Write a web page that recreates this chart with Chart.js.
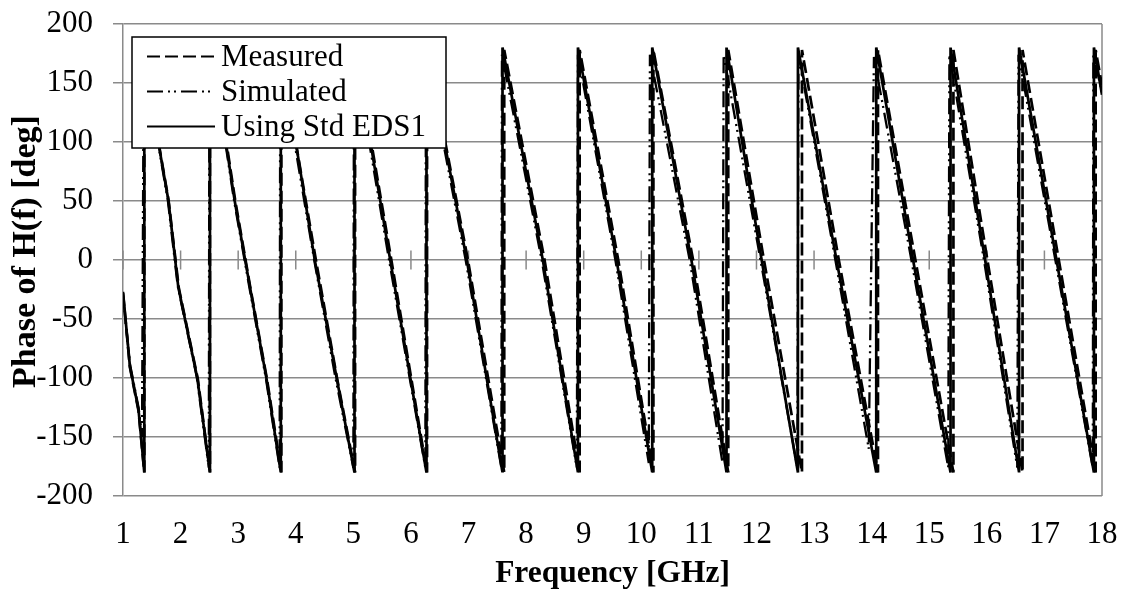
<!DOCTYPE html>
<html>
<head>
<meta charset="utf-8">
<script src="https://cdn.jsdelivr.net/npm/chart.js@4.4.1/dist/chart.umd.min.js"></script>
<style>
html,body{margin:0;padding:0;background:#fff;}
#wrap{width:1125px;height:595px;position:relative;}
</style>
</head>
<body>
<div id="wrap"><canvas id="c" width="1125" height="595"></canvas></div>
<script>
// ---- Data ----
const xTickValues = [1,2,3,4,5,6,7,8,9,10,11,12,13,14,15,16,17,18];
const yTickValues = [-200,-150,-100,-50,0,50,100,150,200];

const seriesNames = ["Measured", "Simulated", "Using Std EDS1"];

const measuredFreq = [1, 1.12, 1.27, 1.37, 1.37, 1.63, 1.79, 1.97, 2.30, 2.51, 2.51, 2.81, 2.95, 3.21, 3.50, 3.75, 3.75, 4.02, 4.35, 4.72, 5.03, 5.03, 5.66, 6.28, 6.28, 6.99, 7.62, 7.62, 8.32, 8.93, 8.93, 9.60, 10.21, 10.21, 10.90, 11.51, 11.51, 12.13, 12.79, 12.79, 13.43, 14.11, 14.11, 14.76, 15.42, 15.42, 16.01, 16.62, 16.62, 17.25, 17.89, 17.89, 18];
const measuredPhase = [-28, -91, -128, -180, 180, 96, 51, -24, -101, -180, 180, 95, 50, -23, -101, -180, 180, 94, 0, -101, -180, 180, 0, -180, 180, 0, -180, 178, 0, -180, 178, 0, -180, 178, 0, -180, 178, 0, -180, 178, 0, -180, 178, 0, -180, 178, 0, -180, 178, 0, -180, 178, 148];

const simulatedFreq = [1, 1.12, 1.27, 1.33, 1.36, 1.62, 1.78, 1.95, 2.28, 2.49, 2.50, 2.79, 2.93, 3.19, 3.48, 3.72, 3.73, 4.00, 4.32, 4.69, 5.00, 5.01, 5.62, 6.25, 6.26, 6.95, 7.57, 7.58, 8.27, 8.88, 8.90, 9.55, 10.13, 10.15, 10.84, 11.41, 11.43, 12.07, 12.71, 12.73, 13.37, 13.95, 14.04, 14.69, 15.33, 15.35, 15.95, 16.53, 16.55, 17.19, 17.84, 17.85, 18];
const simulatedPhase = [-30, -88, -125, -150, 178, 96, 50, -22, -99, -176, 176, 95, 50, -22, -100, -176, 176, 93, 0, -100, -176, 176, 0, -176, 176, 0, -176, 174, 0, -176, 174, 0, -172, 174, 0, -172, 174, 0, -176, 174, 0, -160, 172, 0, -176, 174, 0, -176, 174, 0, -176, 174, 142];

const edsFreq = [1, 1.12, 1.27, 1.37, 1.37, 1.63, 1.79, 1.96, 2.29, 2.51, 2.51, 2.80, 2.94, 3.205, 3.49, 3.74, 3.74, 4.015, 4.33, 4.71, 5.02, 5.02, 5.64, 6.27, 6.27, 6.97, 7.59, 7.59, 8.29, 8.90, 8.90, 9.57, 10.19, 10.19, 10.87, 11.48, 11.48, 12.09, 12.72, 12.72, 13.39, 14.08, 14.08, 14.72, 15.37, 15.37, 15.97, 16.56, 16.56, 17.21, 17.86, 17.86, 18];
const edsPhase = [-27, -90, -127, -180, 180, 95, 50, -23, -100, -180, 180, 95, 50, -23, -100, -180, 180, 95, 0, -100, -180, 180, 0, -180, 180, 0, -180, 180, 0, -180, 180, 0, -180, 180, 0, -180, 180, 0, -180, 180, 0, -180, 180, 0, -180, 180, 0, -180, 180, 0, -180, 180, 140];

// ---- Chart ----
const SERIF = '"Liberation Serif", "Times New Roman", Times, serif';
const GRID = '#8a8a8a';
const toPts = (fs, ps) => fs.map((f, i) => ({x: f, y: ps[i]}));

const styles = [
  {dash: [13, 5], width: 2.7},
  {dash: [16, 5, 2, 4, 2, 5], width: 2.3},
  {dash: [], width: 2.7}
];

const zeroTicks = {
  id: 'zeroTicks',
  beforeDatasetsDraw(chart) {
    const {ctx, scales: {x, y}, chartArea} = chart;
    const y0 = y.getPixelForValue(0);
    ctx.save();
    ctx.strokeStyle = GRID;
    ctx.lineWidth = 1.5;
    ctx.beginPath();
    xTickValues.forEach(v => {
      const px = x.getPixelForValue(v);
      ctx.moveTo(px, y0 - 9.5);
      ctx.lineTo(px, y0 + 9.5);
    });
    ctx.moveTo(chartArea.right, chartArea.top);
    ctx.lineTo(chartArea.right, chartArea.bottom);
    ctx.stroke();
    ctx.restore();
  }
};

const boxLegend = {
  id: 'boxLegend',
  afterDatasetsDraw(chart) {
    const {ctx, chartArea} = chart;
    const bx = chartArea.left + 9, by = chartArea.top + 13, bw = 314, bh = 111;
    ctx.save();
    ctx.fillStyle = '#fff';
    ctx.fillRect(bx, by, bw, bh);
    ctx.strokeStyle = '#000';
    ctx.lineWidth = 1.5;
    ctx.strokeRect(bx, by, bw, bh);
    ctx.font = '31px ' + SERIF;
    ctx.fillStyle = '#000';
    ctx.textBaseline = 'alphabetic';
    ctx.textAlign = 'left';
    chart.data.datasets.forEach((ds, i) => {
      const cy = by + 19.5 + i * 35;
      ctx.beginPath();
      ctx.setLineDash(ds.borderDash || []);
      ctx.lineWidth = 2;
      ctx.strokeStyle = '#000';
      ctx.moveTo(bx + 15, cy);
      ctx.lineTo(bx + 83, cy);
      ctx.stroke();
      ctx.setLineDash([]);
      ctx.fillText(ds.label, bx + 89, cy + 9.5);
    });
    ctx.restore();
  }
};

new Chart(document.getElementById('c'), {
  type: 'scatter',
  data: {
    datasets: [
      {label: seriesNames[0], data: toPts(measuredFreq, measuredPhase)},
      {label: seriesNames[1], data: toPts(simulatedFreq, simulatedPhase)},
      {label: seriesNames[2], data: toPts(edsFreq, edsPhase)}
    ].map((d, i) => Object.assign(d, {
      showLine: true,
      borderColor: '#000',
      backgroundColor: '#000',
      borderWidth: styles[i].width,
      borderDash: styles[i].dash,
      pointRadius: 0,
      pointHoverRadius: 0,
      tension: 0,
      borderJoinStyle: 'miter'
    }))
  },
  options: {
    responsive: false,
    animation: false,
    devicePixelRatio: 1,
    layout: {padding: {top: 24, right: 23, left: 0, bottom: 0}},
    plugins: {
      legend: {display: false},
      tooltip: {enabled: false}
    },
    scales: {
      x: {
        type: 'linear',
        min: 1, max: 18,
        afterBuildTicks(scale) { scale.ticks = xTickValues.map(v => ({value: v})); },
        afterFit(scale) { scale.height = 99; scale.paddingLeft = 0; scale.paddingRight = 0; },
        grid: {display: false, drawTicks: false},
        border: {display: false},
        ticks: {
          font: {family: SERIF, size: 31},
          color: '#000',
          padding: 20,
          maxRotation: 0,
          autoSkip: false
        },
        title: {
          display: true,
          text: 'Frequency [GHz]',
          font: {family: SERIF, size: 31.5, weight: 'bold'},
          color: '#000',
          padding: {top: 0, bottom: 2}
        }
      },
      y: {
        min: -200, max: 200,
        afterBuildTicks(scale) { scale.ticks = yTickValues.map(v => ({value: v})); },
        afterFit(scale) { scale.width = 123; scale.paddingTop = 0; scale.paddingBottom = 0; },
        grid: {color: GRID, lineWidth: 1.5, tickLength: 10, drawTicks: true},
        border: {display: true, color: GRID, width: 1.5},
        ticks: {
          font: {family: SERIF, size: 31},
          color: '#000',
          padding: 20
        },
        title: {
          display: true,
          text: '  Phase of H(f) [deg]',
          font: {family: SERIF, size: 34, weight: 'bold'},
          color: '#000',
          padding: {top: 6, bottom: 0}
        }
      }
    }
  },
  plugins: [zeroTicks, boxLegend]
});
</script>
</body>
</html>
